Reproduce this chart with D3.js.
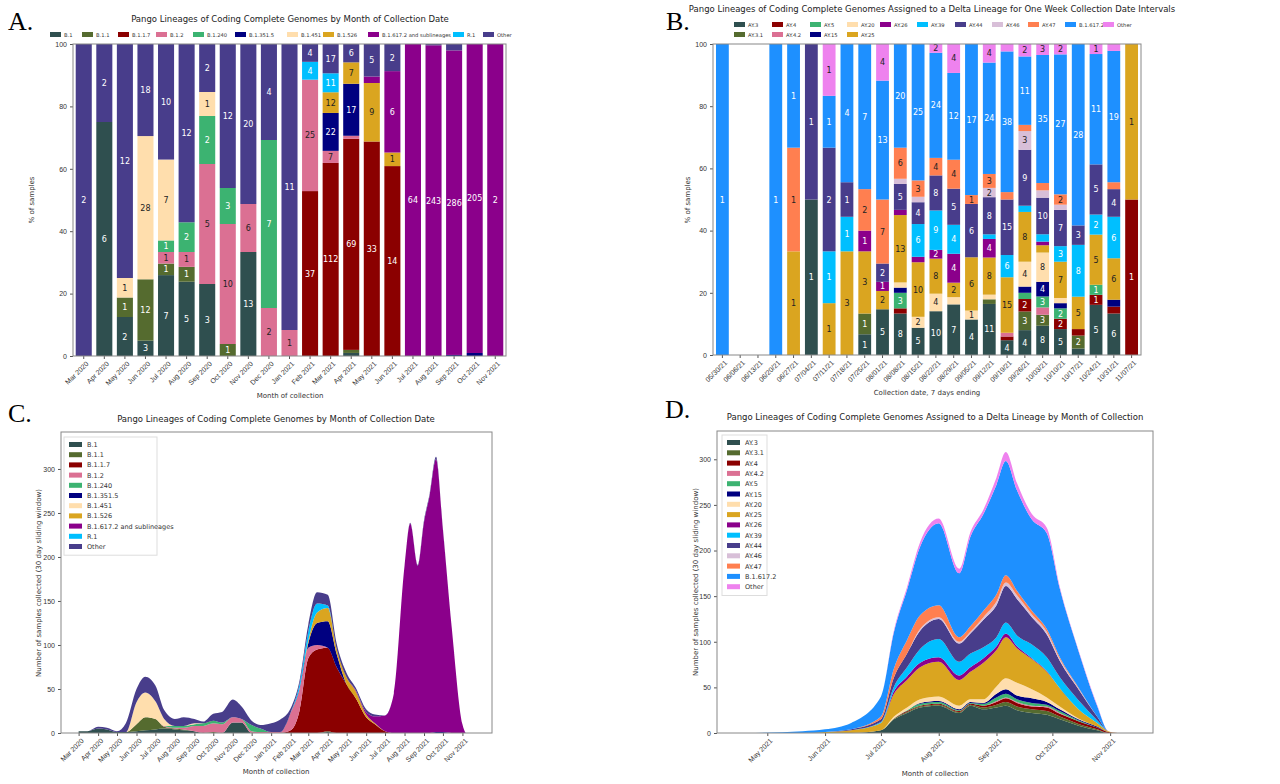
<!DOCTYPE html>
<html><head><meta charset="utf-8">
<script src="https://cdn.jsdelivr.net/npm/d3@7"></script>
<style>body{margin:0;background:#fff}svg{font-family:"DejaVu Sans",sans-serif}</style>
</head><body><svg id="c" width="1280" height="784"></svg>
<script>
// ---------- Panel A data ----------
const monthsA=["Mar 2020","Apr 2020","May 2020","Jun 2020","Jul 2020","Aug 2020","Sep 2020","Oct 2020","Nov 2020","Dec 2020","Jan 2021","Feb 2021","Mar 2021","Apr 2021","May 2021","Jun 2021","Jul 2021","Aug 2021","Sep 2021","Oct 2021","Nov 2021"];
const lineagesA=["B.1","B.1.1","B.1.1.7","B.1.2","B.1.240","B.1.351.5","B.1.451","B.1.526","B.1.617.2 and sublineages","R.1","Other"];
const colorsA=["#2f4f4f","#556b2f","#8b0000","#db7093","#3cb371","#000080","#ffdead","#daa520","#8b008b","#00bfff","#483d8b"];
const A_B1   =[0,6,2,3,7,5,3,0,13,0,0,0,0,1,0,0,0,0,0,0,0];
const A_B11  =[0,0,1,12,1,1,0,1,0,0,0,0,0,1,0,0,0,0,0,0,0];
const A_B117 =[0,0,0,0,0,0,0,0,0,0,0,37,112,69,33,14,0,0,0,0,0];
const A_B12  =[0,0,0,0,1,1,5,10,6,2,1,25,7,1,0,0,0,0,0,0,0];
const A_B1240=[0,0,0,0,1,2,2,3,0,7,0,0,0,0,0,0,0,0,0,0,0];
const A_B1351=[0,0,0,0,0,0,0,0,0,0,0,0,22,17,0,0,0,0,1,2,0];
const A_B1451=[0,0,1,28,7,0,1,0,0,0,0,0,0,0,0,0,0,0,0,0,0];
const A_B1526=[0,0,0,0,0,0,0,0,0,0,0,0,12,7,9,1,0,0,0,0,0];
const A_B1617=[0,0,0,0,0,0,0,0,0,0,0,0,0,0,1,6,64,243,286,205,2];
const A_R1   =[0,0,0,0,0,0,0,0,0,0,0,4,11,0,0,0,0,0,0,0,0];
const A_Other=[2,2,12,18,10,12,2,12,20,4,11,4,17,6,5,2,0,1,6,0,0];
const seriesA=[A_B1,A_B11,A_B117,A_B12,A_B1240,A_B1351,A_B1451,A_B1526,A_B1617,A_R1,A_Other];

// ---------- Panel B data ----------
const weeksB=["05/30/21","06/06/21","06/13/21","06/20/21","06/27/21","07/04/21","07/11/21","07/18/21","07/25/21","08/01/21","08/08/21","08/15/21","08/22/21","08/29/21","09/05/21","09/12/21","09/19/21","09/26/21","10/03/21","10/10/21","10/17/21","10/24/21","10/31/21","11/07/21"];
const lineagesB=["AY.3","AY.3.1","AY.4","AY.4.2","AY.5","AY.15","AY.20","AY.25","AY.26","AY.39","AY.44","AY.46","AY.47","B.1.617.2","Other"];
const colorsB=["#2f4f4f","#556b2f","#8b0000","#db7093","#3cb371","#000080","#ffdead","#daa520","#8b008b","#00bfff","#483d8b","#d8bfd8","#ff7f50","#1e90ff","#ee82ee"];
const B_AY3  =[0,0,0,0,0,1,0,0,1,5,8,5,10,7,4,11,4,4,8,5,1,5,6,0];
const B_AY31 =[0,0,0,0,0,0,0,0,1,0,0,0,0,0,0,1,0,3,3,0,2,0,0,0];
const B_AY4  =[0,0,0,0,0,0,0,0,0,0,1,0,0,0,0,0,1,2,0,2,1,1,1,1];
const B_AY42 =[0,0,0,0,0,0,0,0,0,0,0,0,0,0,0,0,1,0,2,0,0,0,0,0];
const B_AY5  =[0,0,0,0,0,0,0,0,0,0,3,0,0,0,0,0,0,1,3,2,0,1,0,0];
const B_AY15 =[0,0,0,0,0,0,0,0,0,0,1,0,0,0,0,0,0,1,4,1,0,0,1,0];
const B_AY20 =[0,0,0,0,0,0,0,0,0,0,1,2,4,1,1,1,0,4,8,1,0,0,0,0];
const B_AY25 =[0,0,0,0,1,0,1,3,3,2,13,10,8,2,6,8,15,8,2,7,5,5,6,1];
const B_AY26 =[0,0,0,0,0,0,0,0,1,1,1,1,2,4,0,4,0,0,1,0,0,0,0,0];
const B_AY39 =[0,0,0,0,0,0,1,1,0,0,0,6,9,4,0,1,6,1,2,3,8,2,6,0];
const B_AY44 =[0,0,0,0,0,1,2,1,0,2,5,4,8,5,6,8,15,9,10,7,3,5,4,0];
const B_AY46 =[0,0,0,0,0,0,0,0,0,0,1,1,0,0,0,2,0,3,2,1,0,0,0,0];
const B_AY47 =[0,0,0,0,1,0,0,0,2,7,6,3,4,4,1,3,2,1,2,2,0,0,1,0];
const B_B1617=[1,0,0,1,1,0,1,4,7,13,20,25,24,12,17,24,38,11,35,27,28,11,19,0];
const B_Other=[0,0,0,0,0,0,1,0,0,4,0,0,2,4,0,4,2,2,3,2,0,1,1,0];
const seriesB=[B_AY3,B_AY31,B_AY4,B_AY42,B_AY5,B_AY15,B_AY20,B_AY25,B_AY26,B_AY39,B_AY44,B_AY46,B_AY47,B_B1617,B_Other];

// ---------- Panel C data (30 day sliding window counts) ----------
const datesC=["2020-03-01","2020-03-15","2020-04-01","2020-04-15","2020-05-01","2020-05-15","2020-06-01","2020-06-15","2020-07-01","2020-07-15","2020-08-01","2020-08-15","2020-09-01","2020-09-15","2020-10-01","2020-10-15","2020-11-01","2020-11-15","2020-12-01","2020-12-15","2021-01-01","2021-01-15","2021-02-01","2021-02-15","2021-03-01","2021-03-15","2021-04-01","2021-04-15","2021-05-01","2021-05-15","2021-06-01","2021-06-15","2021-07-01","2021-07-15","2021-08-01","2021-08-10","2021-08-22","2021-09-01","2021-09-10","2021-09-20","2021-10-01","2021-10-15","2021-11-01","2021-11-06"];
const C_B1   =[2,2,5,4,1,1,2,3,4,5,4,3,2,0,0,0,12,12,0,0,0,0,0,0,0,0,1,0,0,0,0,0,0,0,0,0,0,0,0,0,0,0,0,0];
const C_B11  =[0,0,0,0,0,0,8,15,12,2,1,1,0,0,1,0,0,0,0,0,0,0,0,0,0,0,1,0,0,0,0,0,0,0,0,0,0,0,0,0,0,0,0,0];
const C_B117 =[0,0,0,0,0,0,0,0,0,0,0,0,0,0,0,0,0,0,0,0,0,0,3,25,85,95,95,75,55,40,18,10,2,0,0,0,0,0,0,0,0,0,0,0];
const C_B12  =[0,0,0,0,0,0,0,0,0,1,1,2,6,8,10,10,6,4,2,1,1,1,20,25,12,5,0,0,0,0,0,0,0,0,0,0,0,0,0,0,0,0,0,0];
const C_B1240=[0,0,0,0,0,0,0,0,0,0,2,2,2,3,3,2,0,0,7,4,0,0,0,0,0,0,0,0,0,0,0,0,0,0,0,0,0,0,0,0,0,0,0,0];
const C_B1351=[0,0,0,0,0,0,0,0,0,0,0,0,0,0,0,0,0,0,0,0,0,0,0,0,5,25,30,15,0,0,0,0,0,0,0,0,0,0,0,1,1,0,0,0];
const C_B1451=[0,0,0,0,0,0,25,28,20,8,0,0,1,0,0,0,0,0,0,0,0,0,0,0,0,0,0,0,0,0,0,0,0,0,0,0,0,0,0,0,0,0,0,0];
const C_B1526=[0,0,0,0,0,0,0,0,0,0,0,0,0,0,0,0,0,0,0,0,0,0,0,0,3,12,15,6,8,8,3,1,0,0,0,0,0,0,0,0,0,0,0,0];
const C_B1617=[0,0,0,0,0,0,0,0,0,0,0,0,0,0,0,0,0,0,0,0,0,0,0,0,0,0,0,0,0,1,3,8,18,45,190,238,190,240,270,310,230,120,10,0];
const C_R1   =[0,0,0,0,0,0,0,0,0,0,0,0,0,0,0,0,0,0,0,0,0,0,0,5,10,10,3,0,0,0,0,0,0,0,0,0,0,0,0,0,0,0,0,0];
const C_Other=[0,0,2,2,1,10,15,18,18,10,8,10,5,2,8,12,20,14,5,4,10,14,5,4,8,13,12,6,5,3,3,2,0,0,0,1,1,2,2,3,1,0,0,0];
const seriesC=[C_B1,C_B11,C_B117,C_B12,C_B1240,C_B1351,C_B1451,C_B1526,C_B1617,C_R1,C_Other];

// ---------- Panel D data ----------
const datesD=["2021-04-20","2021-05-20","2021-06-01","2021-06-15","2021-07-01","2021-07-08","2021-07-15","2021-07-22","2021-08-01","2021-08-12","2021-08-18","2021-08-25","2021-09-01","2021-09-06","2021-09-12","2021-09-20","2021-09-28","2021-10-05","2021-10-15","2021-10-25","2021-10-31","2021-11-05"];
const D_AY3  =[0,0,0,0,3,15,22,28,30,22,30,26,28,30,25,22,20,15,8,3,0,0];
const D_AY31 =[0,0,0,0,0,1,1,1,1,1,1,2,3,4,4,4,4,3,2,1,0,0];
const D_AY4  =[0,0,0,0,0,0,1,1,1,1,1,2,3,4,4,3,4,3,3,2,1,0];
const D_AY42 =[0,0,0,0,0,0,0,0,0,0,0,0,1,1,1,1,1,1,0,0,0,0];
const D_AY5  =[0,0,0,0,0,0,1,2,2,1,1,2,4,4,3,3,2,2,1,0,0,0];
const D_AY15 =[0,0,0,0,0,0,0,1,1,1,1,1,4,5,4,5,3,2,1,1,0,0];
const D_AY20 =[0,0,0,0,0,2,3,4,5,4,3,4,8,12,14,10,5,3,1,0,0,0];
const D_AY25 =[0,0,1,3,8,25,30,35,38,28,30,40,40,45,38,33,28,20,10,4,1,0];
const D_AY26 =[0,0,0,0,0,3,4,5,5,5,5,5,4,4,2,1,1,0,0,0,0,0];
const D_AY39 =[0,0,0,0,1,5,10,15,20,15,15,12,10,12,12,15,15,12,10,3,0,0];
const D_AY44 =[0,0,0,1,3,10,15,20,22,20,22,30,35,40,40,30,25,18,12,4,0,0];
const D_AY46 =[0,0,0,0,0,0,0,2,2,2,2,3,4,4,4,3,3,2,1,0,0,0];
const D_AY47 =[0,0,0,0,3,10,15,15,13,5,6,7,8,8,5,4,3,2,1,0,0,0];
const D_B1617=[0,2,3,7,22,40,55,75,90,70,98,106,120,125,110,100,105,75,40,12,0,0];
const D_Other=[0,0,0,0,0,2,3,5,5,5,5,5,8,10,8,6,6,2,1,1,0,0];
const seriesD=[D_AY3,D_AY31,D_AY4,D_AY42,D_AY5,D_AY15,D_AY20,D_AY25,D_AY26,D_AY39,D_AY44,D_AY46,D_AY47,D_B1617,D_Other];

const svg=d3.select("#c");
const FS=7;
function panelLabel(x,y,t){svg.append("text").attr("x",x).attr("y",y).attr("font-family","Liberation Serif,serif").attr("font-size",26).text(t);}
function titleAt(x,y,t){svg.append("text").attr("x",x).attr("y",y).attr("text-anchor","middle").attr("font-size",8.5).attr("fill","#222").text(t);}
function frame(g,w,h){g.append("rect").attr("width",w).attr("height",h).attr("fill","none").attr("stroke","#888").attr("stroke-width",1);}
function styleAxis(a){a.selectAll("text").attr("font-size",FS).attr("fill","#333");a.selectAll("line").attr("stroke","#555");a.select(".domain").remove();}

function stackedBars(cfg){
  const {x0,y0,w,h,cats,names,colors,series,pad}=cfg;
  const g=svg.append("g").attr("transform",`translate(${x0},${y0})`);
  const x=d3.scaleBand().domain(cats).range([0,w]).paddingInner(pad).paddingOuter(pad*0.6);
  const y=d3.scaleLinear().domain([0,100]).range([h,0]);
  const rows=cats.map((c,i)=>{const o={cat:c};names.forEach((n,k)=>o[n]=series[k][i]);o.total=d3.sum(series,s=>s[i]);return o;});
  const st=d3.stack().keys(names).value((d,k)=>d.total?d[k]/d.total*100:0)(rows);
  const darkText=["#ffdead","#daa520","#ff7f50","#d8bfd8","#db7093","#ee82ee"];
  st.forEach((layer,k)=>{
    const lg=g.append("g");
    lg.selectAll("rect").data(layer).join("rect").attr("x",d=>x(d.data.cat)).attr("width",x.bandwidth())
      .attr("y",d=>y(d[1])).attr("height",d=>Math.max(0,y(d[0])-y(d[1]))).attr("fill",colors[k]);
    lg.selectAll("text").data(layer.filter(d=>d.data[names[k]]>0&&y(d[0])-y(d[1])>=7.5)).join("text")
      .attr("x",d=>x(d.data.cat)+x.bandwidth()/2).attr("y",d=>(y(d[0])+y(d[1]))/2+3)
      .attr("text-anchor","middle").attr("font-size",8).attr("fill",darkText.includes(colors[k])?"#222":"#fff")
      .text(d=>d.data[names[k]]);
  });
  const ya=g.append("g").call(d3.axisLeft(y).ticks(5).tickSize(3));styleAxis(ya);
  const xa=g.append("g").attr("transform",`translate(0,${h})`).call(d3.axisBottom(x).tickSize(3));styleAxis(xa);
  xa.selectAll("text").attr("text-anchor","end").attr("transform","rotate(-45)").attr("dx","-0.3em").attr("dy","0.5em");
  frame(g,w,h);
  return g;
}
function hLegend(x0,y0,names,colors,offsets,rowH,cols){
  const g=svg.append("g").attr("transform",`translate(${x0},${y0})`);
  names.forEach((n,i)=>{
    const col=cols[i][0], row=cols[i][1];
    const it=g.append("g").attr("transform",`translate(${offsets[col]},${row*rowH})`);
    it.append("rect").attr("width",11).attr("height",5).attr("y",-5).attr("fill",colors[i]);
    it.append("text").attr("x",14).attr("y",0).attr("font-size",5.2).attr("fill","#333").text(n);
  });
}
function vLegend(x0,y0,w,names,colors,step){
  const g=svg.append("g").attr("transform",`translate(${x0},${y0})`);
  g.append("rect").attr("width",w).attr("height",names.length*step+6).attr("fill","#fff").attr("stroke","#ddd");
  names.forEach((n,i)=>{
    g.append("rect").attr("x",5).attr("y",5+i*step).attr("width",13).attr("height",5).attr("fill",colors[i]);
    g.append("text").attr("x",23).attr("y",10+i*step).attr("font-size",6.5).attr("fill","#333").text(n);
  });
}
function stackedArea(cfg){
  const {x0,y0,w,h,dates,names,colors,series,xdom,ymax,ticks,fmt}=cfg;
  const g=svg.append("g").attr("transform",`translate(${x0},${y0})`);
  const pd=d3.timeParse("%Y-%m-%d");
  const x=d3.scaleTime().domain(xdom.map(pd)).range([0,w]);
  const y=d3.scaleLinear().domain([0,ymax]).range([h,0]);
  const rows=dates.map((d,i)=>{const o={date:pd(d)};names.forEach((n,k)=>o[n]=series[k][i]);return o;});
  const st=d3.stack().keys(names)(rows);
  const area=d3.area().x(d=>x(d.data.date)).y0(d=>y(d[0])).y1(d=>y(d[1])).curve(d3.curveMonotoneX);
  g.selectAll("path.a").data(st).join("path").attr("d",area).attr("fill",(d,k)=>colors[k]);
  const ya=g.append("g").call(d3.axisLeft(y).ticks(6).tickSize(3));styleAxis(ya);
  const xa=g.append("g").attr("transform",`translate(0,${h})`).call(d3.axisBottom(x).tickValues(ticks.map(pd)).tickFormat(d3.timeFormat(fmt)).tickSize(3));styleAxis(xa);
  xa.selectAll("text").attr("text-anchor","end").attr("transform","rotate(-45)").attr("dx","-0.3em").attr("dy","0.5em");
  frame(g,w,h);
}
function axisTitles(cx,by,xt,lx,ly,yt){
  svg.append("text").attr("x",cx).attr("y",by).attr("text-anchor","middle").attr("font-size",7).attr("fill","#333").text(xt);
  svg.append("text").attr("transform",`translate(${lx},${ly}) rotate(-90)`).attr("text-anchor","middle").attr("font-size",7).attr("fill","#333").text(yt);
}

// Panel A
panelLabel(8,30,"A.");
titleAt(290,22,"Pango Lineages of Coding Complete Genomes by Month of Collection Date");
stackedBars({x0:73,y0:44,w:433,h:312,cats:monthsA,names:lineagesA,colors:colorsA,series:seriesA,pad:0.22});
hLegend(50,37,lineagesA,colorsA,[0,32,68,106,143,185,237,273,318,403,433],0,lineagesA.map((n,i)=>[i,0]));
axisTitles(290,398,"Month of collection",34,200,"% of samples");

// Panel B
panelLabel(666,30,"B.");
titleAt(932,12,"Pango Lineages of Coding Complete Genomes Assigned to a Delta Lineage for One Week Collection Date Intervals");
stackedBars({x0:713,y0:44,w:428,h:311,cats:weeksB,names:lineagesB,colors:colorsB,series:seriesB,pad:0.28});
const colB=[[0,0],[0,1],[1,0],[1,1],[2,0],[2,1],[3,0],[3,1],[4,0],[5,0],[6,0],[7,0],[8,0],[9,0],[10,0]];
hLegend(734,27,lineagesB,colorsB,[0,38,76,113,146,183,221,258,294,331,369],10,colB);
axisTitles(927,395,"Collection date, 7 days ending",690,200,"% of samples");

// Panel C
panelLabel(8,422,"C.");
titleAt(276,422,"Pango Lineages of Coding Complete Genomes by Month of Collection Date");
stackedArea({x0:61,y0:432,w:431,h:301,dates:datesC,names:lineagesA,colors:colorsA,series:seriesC,
  xdom:["2020-02-02","2021-12-18"],ymax:342,ticks:d3.range(0,21).map(i=>d3.timeFormat("%Y-%m-%d")(new Date(2020,2+i,1))),fmt:"%b %Y"});
vLegend(64,437,93,lineagesA,colorsA,10.2);
axisTitles(276,774,"Month of collection",41,583,"Number of samples collected (30 day sliding window)");

// Panel D
panelLabel(665,418,"D.");
titleAt(935,420,"Pango Lineages of Coding Complete Genomes Assigned to a Delta Lineage by Month of Collection");
stackedArea({x0:717,y0:431,w:436,h:302,dates:datesD,names:lineagesB,colors:colorsB,series:seriesD,
  xdom:["2021-04-04","2021-11-24"],ymax:331,ticks:d3.range(0,7).map(i=>d3.timeFormat("%Y-%m-%d")(new Date(2021,4+i,1))),fmt:"%b %Y"});
vLegend(722,435,45,lineagesB,colorsB,10.3);
axisTitles(935,776,"Month of collection",698,582,"Number of samples collected (30 day sliding window)");
</script></body></html>
